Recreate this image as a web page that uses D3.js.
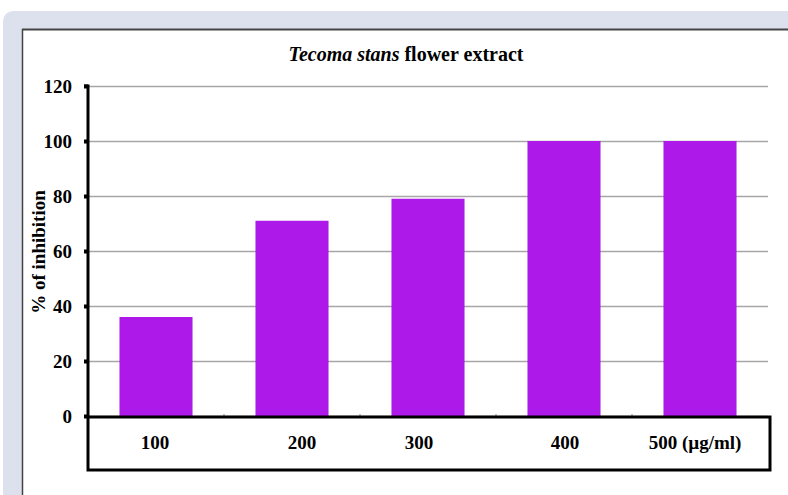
<!DOCTYPE html>
<html><head><meta charset="utf-8">
<script src="https://cdn.jsdelivr.net/npm/d3@7"></script>
<style>
html,body{margin:0;padding:0;background:#fff;}
svg{display:block;}
</style></head>
<body>
<svg id="c" width="788" height="495"></svg>
<script>
const categories = ["100","200","300","400","500"];
const values = [36, 71, 79, 100, 100];
const catLabels = ["100","200","300","400","500 (µg/ml)"];
const yTicks = [0,20,40,60,80,100,120];

const FONT = '"Liberation Serif"';
function txt(sel, size){
  return sel.style("font-family",FONT).style("font-weight","bold").style("font-size",size+"px").attr("fill","#000");
}

const svg = d3.select("#c");
// background frame
svg.append("rect").attr("x",3).attr("y",11).attr("width",800).attr("height",500).attr("rx",10).attr("fill","#dde1ee");
svg.append("rect").attr("x",22).attr("y",29).attr("width",780).attr("height",480).attr("fill","#fff");
svg.append("line").attr("x1",22).attr("x2",788).attr("y1",29.5).attr("y2",29.5).attr("stroke","#444").attr("stroke-width",2);
svg.append("line").attr("x1",22.5).attr("x2",22.5).attr("y1",29).attr("y2",495).attr("stroke","#444").attr("stroke-width",1.5);

const pL = 88, pR = 768, pT = 86, pB = 416;
const x = d3.scaleBand().domain(categories).range([pL,pR]).paddingInner(0.463).paddingOuter(0.2315);
const y = d3.scaleLinear().domain([0,120]).range([pB,pT]);

// gridlines
svg.append("g").selectAll("line").data(yTicks).join("line")
  .attr("x1",pL).attr("x2",pR).attr("y1",d=>y(d)+0.5).attr("y2",d=>y(d)+0.5)
  .attr("stroke","#a6a6a6").attr("stroke-width",1.3);

// bars
svg.append("g").selectAll("rect").data(values).join("rect")
  .attr("x",(d,i)=>x(categories[i])).attr("width",x.bandwidth())
  .attr("y",d=>y(d)).attr("height",d=>pB-y(d))
  .attr("fill","#ad19e8");

// category boundary ticks
const step = x.step();
svg.append("g").selectAll("line").data(d3.range(1,categories.length)).join("line")
  .attr("x1",d=>pL+d*step).attr("x2",d=>pL+d*step).attr("y1",pB-2).attr("y2",pB+1)
  .attr("stroke","#888").attr("stroke-width",1);

// y axis
const yAxis = d3.axisLeft(y).tickValues(yTicks).tickSize(4).tickPadding(12);
const gy = svg.append("g").attr("transform",`translate(${pL},0)`).call(yAxis);
gy.select(".domain").attr("stroke","#000").attr("stroke-width",3).attr("d",`M-4,${pT}H0V${pB}`);
gy.selectAll(".tick line").attr("stroke","#000").attr("stroke-width",4);
txt(gy.selectAll(".tick text"),19).attr("dy","0.35em");

// category box
svg.append("rect").attr("x",88).attr("y",417).attr("width",682).attr("height",53)
  .attr("fill","none").attr("stroke","#000").attr("stroke-width",3);

const labelX = [155, 302, 419, 565, 695];
txt(svg.append("g").selectAll("text").data(catLabels).join("text"),19)
  .attr("x",(d,i)=>labelX[i]).attr("y",449).attr("text-anchor","middle")
  .text(d=>d);

// title
const t = txt(svg.append("text"),20).attr("x",406).attr("y",61).attr("text-anchor","middle");
t.append("tspan").style("font-style","italic").text("Tecoma stans");
t.append("tspan").text(" flower extract");

// y label
txt(svg.append("text"),19).attr("transform","translate(45,252) rotate(-90)").attr("text-anchor","middle")
  .text("% of inhibition");
</script>
</body></html>
